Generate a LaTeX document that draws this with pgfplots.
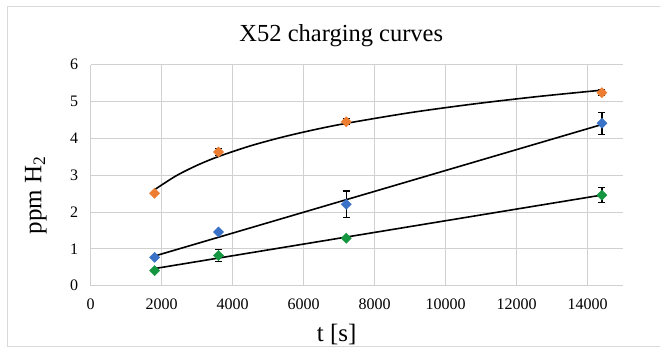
\documentclass[border=0pt]{standalone}
\usepackage{fontspec}
\setmainfont{Liberation Serif}
\usepackage{pgfplots}
\pgfplotsset{compat=1.18}
\definecolor{cOr}{HTML}{ED7D31}
\definecolor{cBl}{HTML}{3A72C8}
\definecolor{cGr}{HTML}{149640}
\definecolor{gridc}{HTML}{D0D0D0}
\definecolor{borderc}{HTML}{D9D9D9}
\begin{document}
\begin{tikzpicture}[x=1pt,y=1pt]
\useasboundingbox (0,0) rectangle (660,348);
\draw[borderc, line width=1pt] (7,2) rectangle (700,341);
\begin{axis}[
  at={(90.7pt,62.3pt)}, anchor=south west,
  scale only axis, width=532.5pt, height=221pt,
  xmin=0, xmax=15000, ymin=0, ymax=6,
  xtick={0,2000,4000,6000,8000,10000,12000,14000},
  ytick={0,1,2,3,4,5,6},
  scaled x ticks=false,
  /pgf/number format/1000 sep={},
  /pgf/number format/assume math mode=true,
  axis line style={draw=none},
  major tick length=0pt,
  grid=major,
  major grid style={gridc, line width=1pt},
  tick label style={font=\fontsize{16}{18}\selectfont},
  xticklabel style={yshift=-10pt},
  yticklabel style={xshift=-9pt},
  title={X52 charging curves},
  title style={at={(axis description cs:0.4706,1.08)}, anchor=base, font=\fontsize{24.5}{28}\selectfont},
  xlabel={t [s]},
  xlabel style={at={(axis description cs:0.462,-0.223)}, anchor=center, font=\fontsize{25}{28}\selectfont},
  ylabel={ppm H\textsubscript{2}},
  ylabel style={at={(axis description cs:-0.1028,0.41)}, anchor=center, rotate=0, font=\fontsize{25}{28}\selectfont},
  clip=false,
]
% data points with error bars
\addplot[only marks, mark=square*, mark size=3.6pt, mark options={rotate=45, fill=cOr, draw=cOr},
  error bars/.cd, y dir=both, y explicit,
  error bar style={black, line width=1.2pt},
  error mark options={rotate=90, black, mark size=3.5pt, line width=1.2pt}]
  table[x=x, y=y, y error=e] {
  x y e
  1800 2.51 0.00
  3600 3.63 0.10
  7200 4.45 0.08
  14400 5.24 0.08
  };
\addplot[only marks, mark=square*, mark size=3.6pt, mark options={rotate=45, fill=cBl, draw=cBl},
  error bars/.cd, y dir=both, y explicit,
  error bar style={black, line width=1.2pt},
  error mark options={rotate=90, black, mark size=3.5pt, line width=1.2pt}]
  table[x=x, y=y, y error=e] {
  x y e
  1800 0.77 0.00
  3600 1.46 0.00
  7200 2.21 0.36
  14400 4.41 0.30
  };
\addplot[only marks, mark=square*, mark size=3.6pt, mark options={rotate=45, fill=cGr, draw=cGr},
  error bars/.cd, y dir=both, y explicit,
  error bar style={black, line width=1.2pt},
  error mark options={rotate=90, black, mark size=3.5pt, line width=1.2pt}]
  table[x=x, y=y, y error=e] {
  x y e
  1800 0.41 0.00
  3600 0.82 0.17
  7200 1.29 0.00
  14400 2.46 0.21
  };
% trend lines
\addplot[black, line width=1.6pt, smooth, no markers] coordinates {
  (1800,2.606) (2400,2.980) (3000,3.270) (3600,3.507) (4500,3.797) (5400,4.034)
  (6300,4.235) (7200,4.408) (9000,4.698) (10800,4.935) (12600,5.136) (14400,5.309)};
\addplot[black, line width=1.6pt, no markers] coordinates {(1800,0.805) (14400,4.376)};
\addplot[black, line width=1.6pt, no markers] coordinates {(1800,0.465) (14400,2.461)};
\end{axis}
\end{tikzpicture}
\end{document}
